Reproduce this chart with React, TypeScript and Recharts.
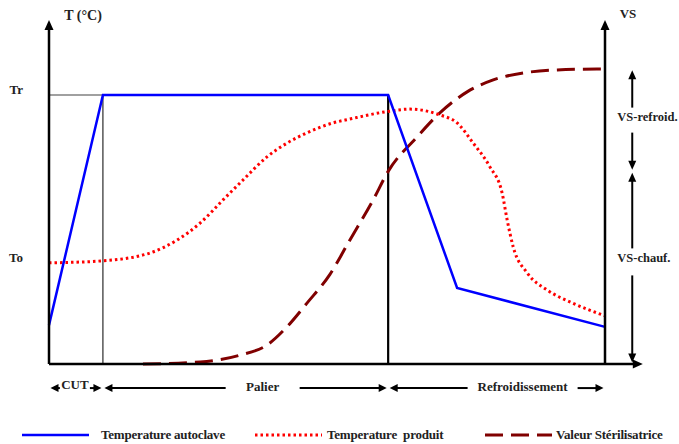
import React from 'react';
import { LineChart, Line, XAxis, YAxis, ReferenceLine } from 'recharts';

// schematic units: time 0-100 (x), temperature / VS 0-100 (y)
const T_CUT = 9.7;
const T_PALIER_END = 61;
const T_END = 100;
const TR = 78.2;
const TO = 29.4;

const yTicks = [TO, TR];
const yTickLabels = ['To', 'Tr'];

const autoclave = [
  { t: 0, v: 11.3 },
  { t: T_CUT, v: TR },
  { t: T_PALIER_END, v: TR },
  { t: 73.4, v: 22.1 },
  { t: 100, v: 10.8 },
];

const produit = [
  { t: 0, v: 29.4 },
  { t: 9.7, v: 30.0 },
  { t: 18.2, v: 32.3 },
  { t: 23.0, v: 36.0 },
  { t: 27.2, v: 41.0 },
  { t: 31.3, v: 47.7 },
  { t: 34.9, v: 53.5 },
  { t: 39.2, v: 60.2 },
  { t: 42.8, v: 64.2 },
  { t: 46.4, v: 67.2 },
  { t: 51.1, v: 70.1 },
  { t: 54.1, v: 71.2 },
  { t: 61.3, v: 73.5 },
  { t: 64.9, v: 74.1 },
  { t: 70.3, v: 72.4 },
  { t: 73.4, v: 70.1 },
  { t: 76.3, v: 64.2 },
  { t: 79.3, v: 57.3 },
  { t: 81.5, v: 49.7 },
  { t: 82.4, v: 41.9 },
  { t: 83.5, v: 34.0 },
  { t: 86.0, v: 26.5 },
  { t: 89.6, v: 21.5 },
  { t: 94.2, v: 17.7 },
  { t: 100, v: 14.0 },
];

const sterilisatrice = [
  { t: 16.9, v: 0 },
  { t: 27.2, v: 0.6 },
  { t: 34.4, v: 2.6 },
  { t: 39.2, v: 5.5 },
  { t: 42.8, v: 10.8 },
  { t: 46.4, v: 17.7 },
  { t: 50.5, v: 26.0 },
  { t: 54.1, v: 36.0 },
  { t: 58.3, v: 47.7 },
  { t: 61, v: 56.0 },
  { t: 66.2, v: 66.0 },
  { t: 70.3, v: 73.0 },
  { t: 75.2, v: 79.1 },
  { t: 79.9, v: 82.6 },
  { t: 85.3, v: 84.6 },
  { t: 91.4, v: 85.5 },
  { t: 100, v: 85.8 },
];

const VS_PALIER = sterilisatrice.find(d => d.t === T_PALIER_END)!.v;
const VS_FINAL = sterilisatrice[sterilisatrice.length - 1].v;

const phases = [
  { name: 'CUT', from: 0, to: T_CUT },
  { name: 'Palier', from: T_CUT, to: T_PALIER_END },
  { name: 'Refroidissement', from: T_PALIER_END, to: T_END },
];

const series = [
  { name: 'Temperature autoclave', color: '#0000ff', dash: undefined, width: 2.5 },
  { name: 'Temperature  produit', color: '#ff0000', dash: '2.5 3', width: 3 },
  { name: 'Valeur Stérilisatrice', color: '#800000', dash: '18 8', width: 3 },
];

const X_ARROW = 106.8; // x-axis arrow tip, past the VS axis
const X_VS_ARROW = 104.9;
const Y_PHASES = -7;

const TXT = {
  fontFamily: '"Liberation Serif", "Times New Roman", serif',
  fontWeight: 700,
  fill: '#222',
};

function head(tx: number, ty: number, ux: number, uy: number, len: number, half: number, key: string) {
  const bx = tx - ux * len;
  const by = ty - uy * len;
  const px = -uy * half;
  const py = ux * half;
  return (
    <polygon key={key} points={`${tx},${ty} ${bx + px},${by + py} ${bx - px},${by - py}`} fill="#000" />
  );
}

// line with optional heads and an optional gap (for a label) along it
function Arrow(p: any) {
  const {
    x1, y1, x2, y2,
    startHead = false, endHead = true,
    width = 2.5, len = 10, half = 4.5, inset = 0,
    gapFrac, gapHalf = 0, children,
  } = p;
  const L = Math.hypot(x2 - x1, y2 - y1);
  const ux = (x2 - x1) / L;
  const uy = (y2 - y1) / L;
  const s0 = inset;
  const s1 = L - inset;
  const a = s0 + (startHead ? len - 1 : 0);
  const b = s1 - (endHead ? len - 1 : 0);
  const parts: [number, number][] = [];
  if (gapFrac != null) {
    const c = L * gapFrac;
    parts.push([a, c - gapHalf], [c + gapHalf, b]);
  } else {
    parts.push([a, b]);
  }
  const at = (d: number) => [x1 + ux * d, y1 + uy * d];
  const gc = gapFrac != null ? at(L * gapFrac) : at(L / 2);
  return (
    <g>
      {parts.map(([d0, d1], i) => {
        const [ax, ay] = at(d0);
        const [bx, by] = at(d1);
        return <line key={i} x1={ax} y1={ay} x2={bx} y2={by} stroke="#000" strokeWidth={width} />;
      })}
      {startHead && head(...(at(s0) as [number, number]), -ux, -uy, len, half, 's')}
      {endHead && head(...(at(s1) as [number, number]), ux, uy, len, half, 'e')}
      {children && children({ tipX: at(s1)[0], tipY: at(s1)[1], cx: gc[0], cy: gc[1] })}
    </g>
  );
}

const YTick = ({ x, y, payload }: any) => (
  <text x={x} y={y} dy={-5} textAnchor="end" dominantBaseline="central" fontSize={13} style={TXT}>
    {yTickLabels[yTicks.indexOf(payload.value)]}
  </text>
);

const phaseGap: Record<string, { frac: number; half: number; dy: number }> = {
  CUT: { frac: 0.48, half: 15, dy: -4 },
  Palier: { frac: 0.56, half: 37, dy: -2 },
  Refroidissement: { frac: 0.62, half: 55, dy: -2 },
};

function Legend() {
  const gaps = [12, 5, 4];
  const lefts = [22, 255, 485];
  return (
    <div style={{ position: 'absolute', left: 0, top: 426, width: 679, height: 18 }}>
      {series.map((s, i) => (
        <div
          key={s.name}
          style={{ position: 'absolute', left: lefts[i], top: 0, height: 18, display: 'flex', alignItems: 'center' }}
        >
          <svg width={67} height={10}>
            <line x1={0} y1={5} x2={67} y2={5} stroke={s.color} strokeWidth={s.width} strokeDasharray={s.dash} />
          </svg>
          <span
            style={{
              marginLeft: gaps[i],
              fontFamily: TXT.fontFamily,
              fontWeight: 700,
              fontSize: 13,
              color: '#222',
              whiteSpace: 'pre',
              letterSpacing: -0.2,
            }}
          >
            {s.name}
          </span>
        </div>
      ))}
    </div>
  );
}

export default function App() {
  return (
    <div style={{ position: 'absolute', left: 0, top: 0, width: 679, height: 444, background: '#fff' }}>
      <LineChart width={679} height={444} margin={{ top: 20, right: 74, bottom: 80, left: 0 }}>
        <XAxis dataKey="t" type="number" domain={[0, 100]} hide allowDuplicatedCategory={false} />
        <YAxis
          type="number"
          domain={[0, 100]}
          ticks={yTicks}
          interval={0}
          axisLine={false}
          tickLine={false}
          tickMargin={20}
          width={49}
          tick={<YTick />}
        />

        {/* Tr guide and phase boundaries */}
        <ReferenceLine segment={[{ x: 0, y: TR }, { x: T_CUT, y: TR }]} stroke="#808080" strokeWidth={1.5} />
        <ReferenceLine segment={[{ x: T_CUT, y: 0 }, { x: T_CUT, y: TR }]} stroke="#000" strokeWidth={1} />
        <ReferenceLine segment={[{ x: T_PALIER_END, y: 0 }, { x: T_PALIER_END, y: TR }]} stroke="#000" strokeWidth={2.2} />

        <Line
          data={sterilisatrice}
          dataKey="v"
          type="monotone"
          stroke={series[2].color}
          strokeWidth={series[2].width}
          strokeDasharray={series[2].dash}
          dot={false}
          activeDot={false}
          isAnimationActive={false}
        />
        <Line
          data={produit}
          dataKey="v"
          type="monotone"
          stroke={series[1].color}
          strokeWidth={series[1].width}
          strokeDasharray={series[1].dash}
          dot={false}
          activeDot={false}
          isAnimationActive={false}
        />
        <Line
          data={autoclave}
          dataKey="v"
          type="linear"
          stroke={series[0].color}
          strokeWidth={series[0].width}
          dot={false}
          activeDot={false}
          isAnimationActive={false}
        />

        {/* axes with arrows */}
        <ReferenceLine
          ifOverflow="visible"
          segment={[{ x: 0, y: 0 }, { x: X_ARROW, y: 0 }]}
          shape={(p: any) => <Arrow {...p} />}
        />
        <ReferenceLine
          ifOverflow="visible"
          segment={[{ x: 0, y: 0 }, { x: 0, y: 100 }]}
          shape={(p: any) => (
            <Arrow {...p}>
              {({ tipX, tipY }: any) => (
                <text x={tipX + 34} y={tipY - 5} textAnchor="middle" dominantBaseline="central" fontSize={14} style={TXT}>
                  T (°C)
                </text>
              )}
            </Arrow>
          )}
        />
        <ReferenceLine
          ifOverflow="visible"
          segment={[{ x: 100, y: 0 }, { x: 100, y: 100 }]}
          shape={(p: any) => (
            <Arrow {...p}>
              {({ tipX, tipY }: any) => (
                <text x={tipX + 23} y={tipY - 7} textAnchor="middle" dominantBaseline="central" fontSize={13} style={TXT}>
                  VS
                </text>
              )}
            </Arrow>
          )}
        />

        {/* VS split arrows */}
        <ReferenceLine
          ifOverflow="visible"
          segment={[{ x: X_VS_ARROW, y: VS_PALIER }, { x: X_VS_ARROW, y: VS_FINAL }]}
          shape={(p: any) => (
            <Arrow {...p} startHead width={2} len={9} half={4} inset={1.5} gapFrac={0.5} gapHalf={12.5}>
              {({ cx, cy }: any) => (
                <text x={cx - 15} y={cy - 3} dominantBaseline="central" fontSize={12.5} style={TXT}>
                  VS-refroid.
                </text>
              )}
            </Arrow>
          )}
        />
        <ReferenceLine
          ifOverflow="visible"
          segment={[{ x: X_VS_ARROW, y: 0 }, { x: X_VS_ARROW, y: VS_PALIER }]}
          shape={(p: any) => (
            <Arrow {...p} startHead width={2} len={9} half={4} inset={1.5} gapFrac={0.53} gapHalf={13.5}>
              {({ cx, cy }: any) => (
                <text x={cx - 15} y={cy - 3.5} dominantBaseline="central" fontSize={12.5} style={TXT}>
                  VS-chauf.
                </text>
              )}
            </Arrow>
          )}
        />

        {/* phases */}
        {phases.map(ph => {
          const g = phaseGap[ph.name];
          return (
            <ReferenceLine
              key={ph.name}
              ifOverflow="visible"
              segment={[{ x: ph.from, y: Y_PHASES }, { x: ph.to, y: Y_PHASES }]}
              shape={(p: any) => (
                <Arrow {...p} startHead width={2} len={8} half={4} inset={1.5} gapFrac={g.frac} gapHalf={g.half}>
                  {({ cx, cy }: any) => (
                    <text x={cx} y={cy + g.dy} textAnchor="middle" dominantBaseline="central" fontSize={13} style={TXT}>
                      {ph.name}
                    </text>
                  )}
                </Arrow>
              )}
            />
          );
        })}
      </LineChart>
      <Legend />
    </div>
  );
}
